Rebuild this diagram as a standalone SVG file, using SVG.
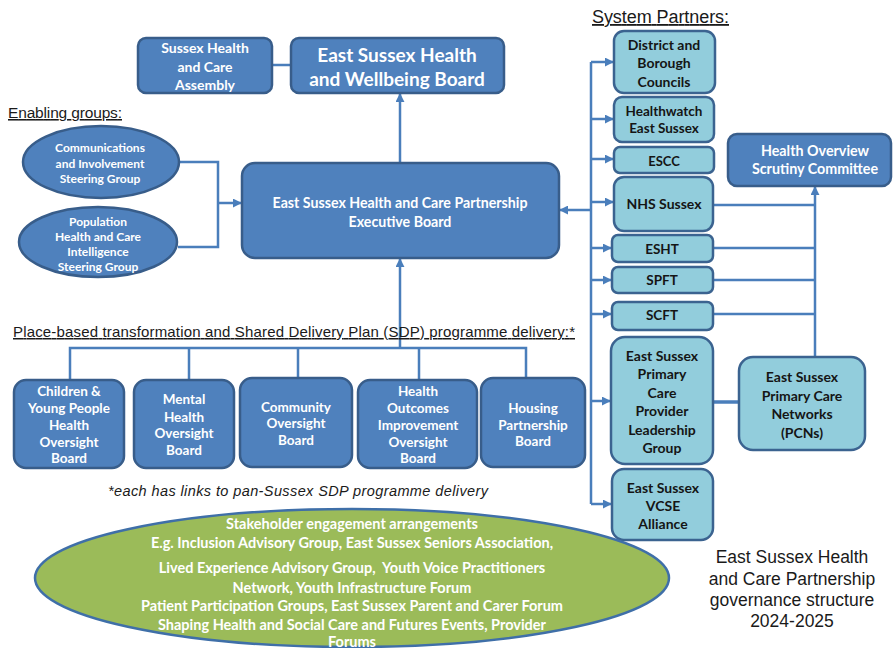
<svg xmlns="http://www.w3.org/2000/svg" width="893" height="648" viewBox="0 0 893 648">
<defs>
<style>
.db{fill:#4F81BD;stroke:#385D8A;stroke-width:2.5}
.lb{fill:#92CDDC;stroke:#3B6390;stroke-width:2.5}
.wt{font-family:Lato,"Liberation Sans",sans-serif;font-weight:bold;fill:#fff;text-anchor:middle;dominant-baseline:central;font-size:13.5px}
.bt{font-family:Lato,"Liberation Sans",sans-serif;font-weight:bold;fill:#151515;text-anchor:middle;dominant-baseline:central;font-size:14px}
.hd{font-family:"Liberation Sans",Arial,sans-serif;fill:#1a1a1a;text-decoration:underline}
.cn{fill:none;stroke:#4A7EBB;stroke-width:2.5}
.ar{marker-end:url(#arr)}
</style>
<marker id="arr" viewBox="0 0 10 10" refX="9" refY="5" markerWidth="9" markerHeight="9" markerUnits="userSpaceOnUse" orient="auto">
<path d="M0,0 L10,5 L0,10 z" fill="#4A7EBB"/>
</marker>
</defs>
<rect width="893" height="648" fill="#fff"/>

<g id="connectors">
<path class="cn" d="M272,65 H291"/>
<path class="cn ar" d="M400,163 V94"/>
<path class="cn" d="M179,162 H218 V247 H178"/>
<path class="cn ar" d="M218,203 H241"/>
<path class="cn ar" d="M400,348 V259"/>
<path class="cn" d="M70,380 V348 H526 V378"/>
<path class="cn" d="M189,348 V380 M298,348 V378 M419,348 V380"/>
<path class="cn" d="M591,504 V62"/>
<path class="cn ar" d="M591,62 H613"/>
<path class="cn ar" d="M591,119 H613"/>
<path class="cn ar" d="M591,159 H613"/>
<path class="cn ar" d="M591,202 H613"/>
<path class="cn ar" d="M591,248 H611"/>
<path class="cn ar" d="M591,280 H611"/>
<path class="cn ar" d="M591,314 H611"/>
<path class="cn ar" d="M591,401 H610"/>
<path class="cn ar" d="M591,504 H611"/>
<path class="cn ar" d="M591,210 H560"/>
<path class="cn ar" d="M815,357 V187"/>
<path class="cn" d="M713,205 H815 M713,248 H815 M713,280 H815 M713,314 H815"/>
<path class="cn" style="stroke-width:3.5" d="M713,402 H739"/>
</g>

<text class="hd" x="8" y="118" font-size="15.5" textLength="114">Enabling groups:</text>
<text class="hd" x="592" y="23" font-size="18" textLength="137">System Partners:</text>
<text class="hd" x="13" y="337" font-size="15" textLength="562">Place-based transformation and Shared Delivery Plan (SDP) programme delivery:*</text>
<text x="298" y="496" font-family="'Liberation Sans',Arial,sans-serif" font-style="italic" font-size="14.5" fill="#1a1a1a" text-anchor="middle" textLength="380">*each has links to pan-Sussex SDP programme delivery</text>

<g id="assembly">
<rect class="db" x="138" y="38" width="134" height="55" rx="8"/>
<text class="wt" style="font-size:14px"><tspan x="205" y="47">Sussex Health</tspan><tspan x="205" y="66">and Care</tspan><tspan x="205" y="84">Assembly</tspan></text>
</g>
<g id="hwb">
<rect class="db" x="291" y="38" width="213" height="55" rx="8"/>
<text class="wt" style="font-size:19px"><tspan x="397" y="54">East Sussex Health</tspan><tspan x="397" y="78">and Wellbeing Board</tspan></text>
</g>
<g id="exec">
<rect class="db" x="242" y="163" width="317" height="95" rx="13"/>
<text class="wt" style="font-size:14.2px"><tspan x="400" y="202">East Sussex Health and Care Partnership</tspan><tspan x="400" y="221">Executive Board</tspan></text>
</g>

<g id="comms">
<ellipse class="db" cx="101" cy="162" rx="78" ry="36"/>
<text class="wt" style="font-size:12px"><tspan x="100" y="147">Communications</tspan><tspan x="100" y="163">and Involvement</tspan><tspan x="100" y="178">Steering Group</tspan></text>
</g>
<g id="pophealth">
<ellipse class="db" cx="98" cy="242" rx="79" ry="35"/>
<text class="wt" style="font-size:12px"><tspan x="98" y="221">Population</tspan><tspan x="98" y="236">Health and Care</tspan><tspan x="98" y="251">Intelligence</tspan><tspan x="98" y="266">Steering Group</tspan></text>
</g>

<g id="cyp">
<rect class="db" x="14" y="380" width="110" height="88" rx="12"/>
<text class="wt"><tspan x="69" y="391">Children &amp;</tspan><tspan x="69" y="408">Young People</tspan><tspan x="69" y="425">Health</tspan><tspan x="69" y="442">Oversight</tspan><tspan x="69" y="458">Board</tspan></text>
</g>
<g id="mental">
<rect class="db" x="134" y="380" width="100" height="88" rx="12"/>
<text class="wt"><tspan x="184" y="399">Mental</tspan><tspan x="184" y="417">Health</tspan><tspan x="184" y="433">Oversight</tspan><tspan x="184" y="450">Board</tspan></text>
</g>
<g id="community">
<rect class="db" x="240" y="378" width="112" height="89" rx="12"/>
<text class="wt"><tspan x="296" y="407">Community</tspan><tspan x="296" y="423">Oversight</tspan><tspan x="296" y="440">Board</tspan></text>
</g>
<g id="outcomes">
<rect class="db" x="358" y="380" width="119" height="88" rx="12"/>
<text class="wt"><tspan x="418" y="391">Health</tspan><tspan x="418" y="408">Outcomes</tspan><tspan x="418" y="425">Improvement</tspan><tspan x="418" y="442">Oversight</tspan><tspan x="418" y="458">Board</tspan></text>
</g>
<g id="housing">
<rect class="db" x="481" y="378" width="104" height="89" rx="12"/>
<text class="wt"><tspan x="533" y="408">Housing</tspan><tspan x="533" y="425">Partnership</tspan><tspan x="533" y="441">Board</tspan></text>
</g>

<g id="districts">
<rect class="lb" x="614" y="31" width="101" height="62" rx="10"/>
<text class="bt"><tspan x="664" y="44">District and</tspan><tspan x="664" y="62">Borough</tspan><tspan x="664" y="81">Councils</tspan></text>
</g>
<g id="healthwatch">
<rect class="lb" x="614" y="97" width="100" height="45" rx="8"/>
<text class="bt" style="font-size:13.5px"><tspan x="664" y="111">Healthwatch</tspan><tspan x="664" y="128">East Sussex</tspan></text>
</g>
<g id="escc">
<rect class="lb" x="614" y="147" width="100" height="26" rx="6"/>
<text class="bt" style="font-size:13px" x="664" y="161">ESCC</text>
</g>
<g id="nhs">
<rect class="lb" x="614" y="177" width="99" height="54" rx="10"/>
<text class="bt" x="664" y="203">NHS Sussex</text>
</g>
<g id="esht">
<rect class="lb" x="612" y="235" width="101" height="27" rx="6"/>
<text class="bt" style="font-size:13.5px" x="662" y="249">ESHT</text>
</g>
<g id="spft">
<rect class="lb" x="612" y="267" width="101" height="26" rx="6"/>
<text class="bt" style="font-size:13.5px" x="662" y="280">SPFT</text>
</g>
<g id="scft">
<rect class="lb" x="612" y="302" width="101" height="28" rx="6"/>
<text class="bt" style="font-size:13.5px" x="662" y="315">SCFT</text>
</g>
<g id="pcplg">
<rect class="lb" x="611" y="337" width="102" height="127" rx="14"/>
<text class="bt"><tspan x="662" y="355">East Sussex</tspan><tspan x="662" y="373">Primary</tspan><tspan x="662" y="392">Care</tspan><tspan x="662" y="410">Provider</tspan><tspan x="662" y="429">Leadership</tspan><tspan x="662" y="447">Group</tspan></text>
</g>
<g id="vcse">
<rect class="lb" x="612" y="469" width="101" height="71" rx="12"/>
<text class="bt"><tspan x="663" y="487">East Sussex</tspan><tspan x="663" y="505">VCSE</tspan><tspan x="663" y="523">Alliance</tspan></text>
</g>
<g id="pcn">
<rect class="lb" x="739" y="357" width="126" height="93" rx="14"/>
<text class="bt"><tspan x="802" y="376">East Sussex</tspan><tspan x="802" y="395">Primary Care</tspan><tspan x="802" y="413">Networks</tspan><tspan x="802" y="432">(PCNs)</tspan></text>
</g>
<g id="hosc">
<rect class="db" x="728" y="134" width="163" height="52" rx="9"/>
<text class="wt" style="font-size:14.3px"><tspan x="815" y="150">Health Overview</tspan><tspan x="815" y="168">Scrutiny Committee</tspan></text>
</g>

<g id="stakeholder">
<ellipse cx="352" cy="578" rx="317" ry="69" fill="#9BBB59" stroke="#3F6FA8" stroke-width="2.5"/>
<text class="wt" style="font-size:14.5px"><tspan x="352" y="523">Stakeholder engagement arrangements</tspan><tspan x="352" y="542">E.g. Inclusion Advisory Group, East Sussex Seniors Association,</tspan><tspan x="352" y="567" style="white-space:pre">Lived Experience Advisory Group,  Youth Voice Practitioners</tspan><tspan x="352" y="587">Network, Youth Infrastructure Forum</tspan><tspan x="352" y="605">Patient Participation Groups, East Sussex Parent and Carer Forum</tspan><tspan x="352" y="624">Shaping Health and Social Care and Futures Events, Provider</tspan><tspan x="352" y="641">Forums</tspan></text>
</g>

<text font-family="'Liberation Sans',Arial,sans-serif" font-size="17.5" fill="#1a1a1a" text-anchor="middle"><tspan x="792" y="563">East Sussex Health</tspan><tspan x="792" y="585">and Care Partnership</tspan><tspan x="792" y="606">governance structure</tspan><tspan x="792" y="627">2024-2025</tspan></text>
</svg>
